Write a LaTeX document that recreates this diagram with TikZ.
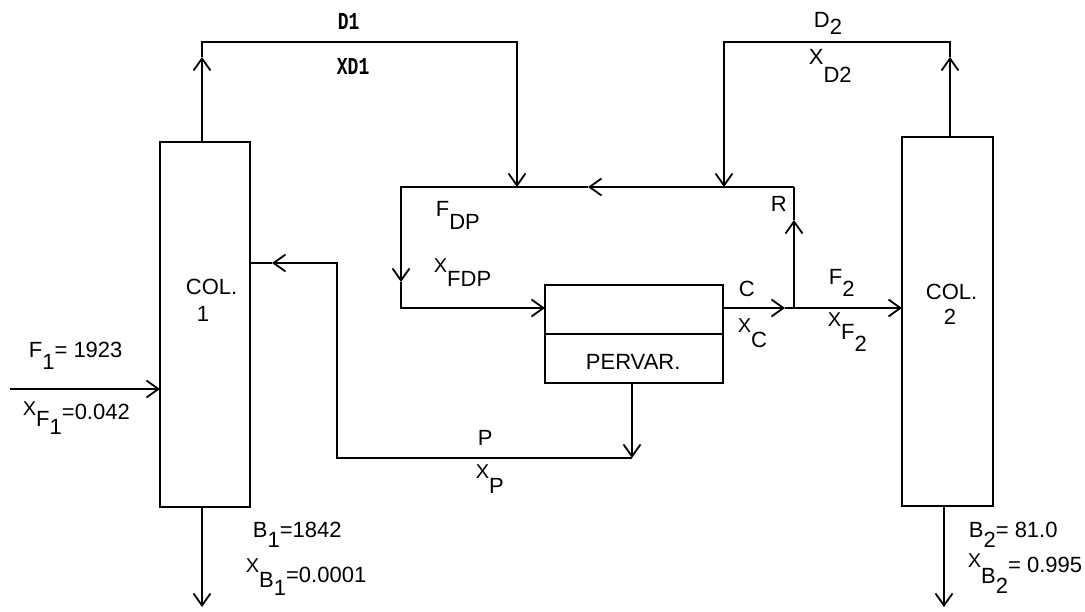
\documentclass[tikz,border=0pt]{standalone}
\usepackage{fontspec}
\usepackage{graphicx}
\setmainfont{Liberation Sans}
\newfontfamily\oddfont{Liberation Mono}
\usetikzlibrary{arrows.meta}
\newcommand\lo[2][8pt]{\raisebox{-#1}{#2}}
\newcommand\xs[1][0pt]{\raisebox{#1}{\fontsize{20}{20}\selectfont X}}
\newcommand\oddtext[1]{\scalebox{1}[1.35]{\bfseries #1}}
\begin{document}
\begin{tikzpicture}[x=1pt,y=-1pt,line width=1.8pt,
  arr/.style={-{Straight Barb[length=12pt,width=17pt]}},
  lbl/.style={anchor=base west,inner sep=0pt,font=\fontsize{22}{26}\selectfont},
  odd/.style={anchor=base west,inner sep=0pt,font=\fontsize{18}{20}\selectfont\oddfont},
  box/.style={draw,inner sep=0pt,outer sep=0pt}]
\fill[white] (0,0) rectangle (1085,612);
\useasboundingbox (0,0) rectangle (1085,612);
% units
\node[box,minimum width=90pt,minimum height=365pt] (col1) at (205,324.5) {};
\node[box,minimum width=91pt,minimum height=369pt] (col2) at (947.5,321.5) {};
\node[box,minimum width=178pt,minimum height=98pt] (pv) at (634,334) {};
\draw (pv.west) -- (pv.east);
% coordinates
\coordinate (c1up) at (202,57);
\coordinate (d1a) at (202,42);
\coordinate (d1b) at (517,42);
\coordinate (lpT1) at (517,187);
\coordinate (c2up) at (950,57);
\coordinate (d2a) at (950,42);
\coordinate (d2b) at (724,42);
\coordinate (lpT2) at (724,187);
\coordinate (lpR) at (794,187);
\coordinate (lpArr) at (588,187);
\coordinate (lpL) at (401,187);
\coordinate (lpDn) at (401,282);
\coordinate (lpBL) at (401,308);
\coordinate (jn) at (794,308);
\coordinate (cArr) at (785,308);
\coordinate (rArr) at (794,220);
\coordinate (pEnd) at (632,458);
\coordinate (pL) at (337,458);
\coordinate (pU) at (337,263);
\coordinate (pArr) at (272,263);
\coordinate (fIn) at (10,389);
\coordinate (b1) at (202,607);
\coordinate (b2) at (944,607);
% column 1 top
\draw[arr] (col1.north -| c1up) -- (c1up);
\draw[arr] (c1up) -- (d1a) -- (d1b) -- (lpT1);
% column 2 top
\draw[arr] (col2.north -| c2up) -- (c2up);
\draw[arr] (c2up) -- (d2a) -- (d2b) -- (lpT2);
% loop
\draw[arr] (lpR) -- (lpArr);
\draw[arr] (lpArr) -- (lpL) -- (lpDn);
\draw[arr] (lpDn) -- (lpBL) -- (pv.west |- lpBL);
% retentate
\draw[arr] (pv.east |- jn) -- (cArr);
\draw[arr] (cArr) -- (col2.west |- jn);
\draw[arr] (jn) -- (rArr);
\draw (rArr) -- (lpR);
% permeate
\draw[arr] (pv.south -| pEnd) -- (pEnd);
\draw[arr] (pEnd) -- (pL) -- (pU) -- (pArr);
\draw (pArr) -- (col1.east |- pArr);
% feed and bottoms
\draw[arr] (fIn) -- (col1.west |- fIn);
\draw[arr] (col1.south -| b1) -- (b1);
\draw[arr] (col2.south -| b2) -- (b2);
% labels
\node[odd] (lD1) at (337,30) {\oddtext{D1}};
\node[odd] (lXD1) at (336,75) {\oddtext{XD1}};
\node[lbl] (lD2) at (813,28) {D\lo[7pt]{2}};
\node[lbl] (lXD2) at (808,65) {X\lo[18pt]{D2}};
\node[lbl] (lR) at (770,212) {R};
\node[lbl] (lFDP) at (435,217) {F\lo[13pt]{DP}};
\node[lbl] (lXFDP) at (433,273) {\xs\lo[14pt]{FDP}};
\node[lbl] (lC) at (738,297) {C};
\node[lbl] (lXC) at (737,333) {\xs\lo[15pt]{C}};
\node[lbl] (lF2) at (828,285) {F\lo[12pt]{2}};
\node[lbl] (lXF2) at (827,327) {\xs\lo[13pt]{F\lo[12pt]{2}}};
\node[lbl] (lCol1a) at (185,295) {COL.};
\node[lbl] (lCol1b) at (196,322) {1};
\node[lbl] (lCol2a) at (925,300) {COL.};
\node[lbl] (lCol2b) at (943,325) {2};
\node[lbl] (lPV) at (585,370) {PERVAR.};
\node[lbl] (lP) at (477,445) {P};
\node[lbl] (lXP) at (475,478) {\xs\lo[15pt]{P}};
\node[lbl] (lF1) at (28,358) {F\lo[12pt]{1}= 1923};
\node[lbl] (lXF1) at (22,420) {\xs[5pt]\lo[7pt]{F\lo[8pt]{1}}=0.042};
\node[lbl] (lB1) at (252,537) {B\lo[10pt]{1}=1842};
\node[lbl] (lXB1) at (245,582) {\xs[10pt]\lo[5pt]{B\lo[8pt]{1}}=0.0001};
\node[lbl] (lB2) at (968,537) {B\lo[10pt]{2}= 81.0};
\node[lbl] (lXB2) at (967,572) {\xs[5pt]\lo[11pt]{B\lo[10pt]{2}}= 0.995};
\end{tikzpicture}
\end{document}
